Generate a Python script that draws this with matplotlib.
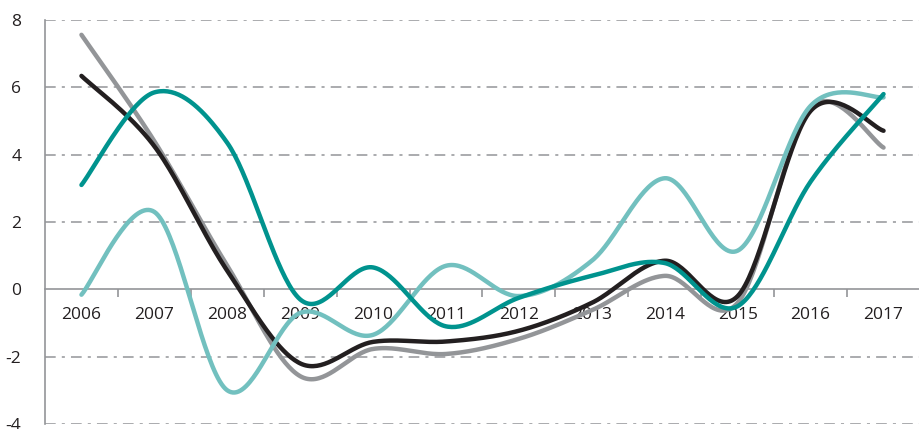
import numpy as np
import matplotlib
matplotlib.use("Agg")
import matplotlib.pyplot as plt

years = ["2006", "2007", "2008", "2009", "2010", "2011", "2012", "2013", "2014", "2015", "2016", "2017"]
gray_vals = [7.56, 4.4, 0.7, -2.58, -1.77, -1.92, -1.47, -0.62, 0.4, -0.4, 5.4, 4.21]
black_vals = [6.34, 4.25, 0.55, -2.2, -1.56, -1.55, -1.23, -0.4, 0.85, -0.2, 5.3, 4.71]
teal_vals = [3.1, 5.85, 4.35, -0.3, 0.65, -1.1, -0.25, 0.4, 0.78, -0.5, 3.2, 5.8]
light_vals = [-0.16, 2.3, -3.0, -0.7, -1.35, 0.7, -0.2, 0.85, 3.3, 1.15, 5.45, 5.7]
yticks = [-4, -2, 0, 2, 4, 6, 8]

def smooth(y, n=40):
    y = np.asarray(y, float)
    x = np.arange(len(y), dtype=float)
    xs, ys = [], []
    for i in range(len(y) - 1):
        p0x, p0y = (x[i - 1], y[i - 1]) if i > 0 else (x[i], y[i])
        p1x, p1y = x[i], y[i]
        p2x, p2y = x[i + 1], y[i + 1]
        p3x, p3y = (x[i + 2], y[i + 2]) if i + 2 < len(y) else (x[i + 1], y[i + 1])
        c1x, c1y = p1x + (p2x - p0x) / 6, p1y + (p2y - p0y) / 6
        c2x, c2y = p2x - (p3x - p1x) / 6, p2y - (p3y - p1y) / 6
        t = np.linspace(0, 1, n)
        bx = (1-t)**3*p1x + 3*(1-t)**2*t*c1x + 3*(1-t)*t**2*c2x + t**3*p2x
        by = (1-t)**3*p1y + 3*(1-t)**2*t*c1y + 3*(1-t)*t**2*c2y + t**3*p2y
        xs.append(bx); ys.append(by)
    return np.concatenate(xs), np.concatenate(ys)

plt.rcParams['font.family'] = ['Open Sans', 'DejaVu Sans']

fig = plt.figure(figsize=(9.2, 4.29), dpi=100)
ax = fig.add_axes([45/920, 5/429, 875/920, 404/429])
ax.set_xlim(-0.5, len(years) - 0.5)
ax.set_ylim(-4, 8)

gc = '#939598'
for v in yticks:
    if v != 0:
        ax.axhline(v, color=gc, lw=1.1, linestyle=(0, (7, 4, 2, 4)), zorder=1)

for vals, col in [(gray_vals, '#939598'), (black_vals, '#231f20'),
                  (light_vals, '#72c0bf'), (teal_vals, '#00938e')]:
    sx, sy = smooth(vals)
    ax.plot(sx, sy, color=col, lw=3.2, solid_capstyle='round', zorder=3, clip_on=False)

for s in ['top', 'right']:
    ax.spines[s].set_visible(False)
ax.spines['bottom'].set_position(('data', 0))
ax.spines['bottom'].set_color(gc)
ax.spines['left'].set_color(gc)
ax.spines['bottom'].set_linewidth(1.2)
ax.spines['left'].set_linewidth(1.2)
ax.spines['bottom'].set_zorder(2)

ax.set_xticks(np.arange(len(years)) + 0.5)
ax.set_xticklabels([])
ax.set_xticks(np.arange(len(years)), minor=True)
ax.set_xticklabels(years, minor=True, fontsize=12.5, color='#231f20')
ax.tick_params(axis='x', which='major', direction='out', length=6, width=1.2, color=gc)
ax.tick_params(axis='x', which='minor', length=0, pad=13)

ax.set_yticks(yticks)
ax.set_yticklabels([str(v) for v in yticks], fontsize=12.5, color='#231f20')
ax.tick_params(axis='y', length=0, pad=17)

fig.savefig('out.png', dpi=100)
